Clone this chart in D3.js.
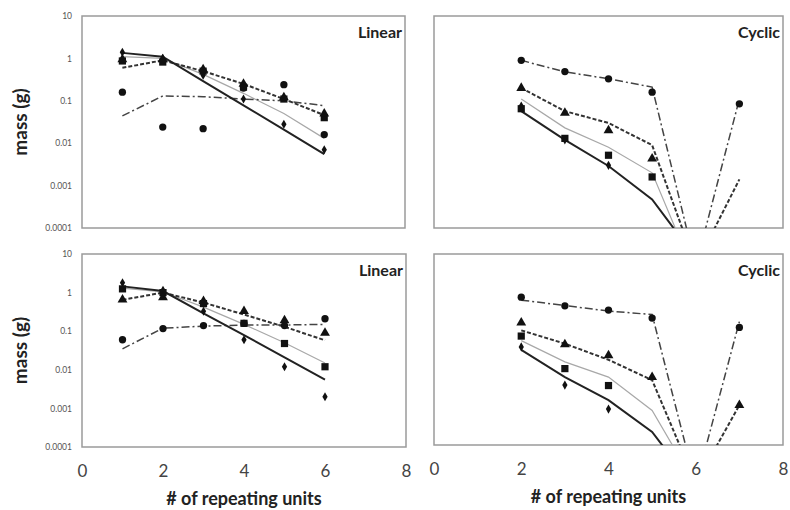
<!DOCTYPE html>
<html>
<head>
<meta charset="utf-8">
<script src="https://cdn.jsdelivr.net/npm/d3@7"></script>
<style>
  body { margin: 0; background: #fff; }
  svg { display: block; font-family: Lato, 'Open Sans', sans-serif; }
</style>
</head>
<body>
<svg id="chart" width="790" height="510"></svg>
<script>
// x values
const xLinear = [1, 2, 3, 4, 5, 6];
const xCyclicPts = [2, 3, 4, 5, 7];
const xCyclicFit = [2, 3, 4, 5, 6, 7];
const yTicks = [10, 1, 0.1, 0.01, 0.001, 0.0001];
const xTicks = [0, 2, 4, 6, 8];

// top, linear
const tlDiamond = [1.4, 1.0, 0.4, 0.11, 0.028, 0.007];
const tlSquare = [0.87, 0.82, 0.5, 0.21, 0.11, 0.04];
const tlTriangle = [0.95, 0.95, 0.55, 0.25, 0.12, 0.05];
const tlCircle = [0.16, 0.024, 0.022, 0.2, 0.24, 0.016];
const tlSolidFit = [1.35, 1.1, 0.29, 0.078, 0.021, 0.0055];
const tlGrayFit = [1.1, 1.0, 0.42, 0.15, 0.05, 0.013];
const tlDashFit = [0.6, 0.9, 0.5, 0.25, 0.11, 0.046];
const tlDashDotFit = [0.044, 0.13, 0.125, 0.11, 0.1, 0.077];

// top, cyclic
const trDiamond = [0.075, 0.012, 0.003, null, null];
const trSquare = [0.065, 0.013, 0.0052, 0.0016, null];
const trTriangle = [0.2, 0.052, 0.02, 0.0043, null];
const trCircle = [0.9, 0.49, 0.33, 0.16, 0.085];
const trSolidFit = [0.057, 0.012, 0.0029, 0.00047, 0.00002, null];
const trGrayFit = [0.11, 0.023, 0.008, 0.002, 0.000007, null];
const trDashFit = [0.2, 0.057, 0.03, 0.009, 0.000013, 0.0014];
const trDashDotFit = [0.9, 0.48, 0.33, 0.21, 0.0000126, 0.11];

// bottom, linear
const blDiamond = [1.8, 1.15, 0.33, 0.06, 0.012, 0.002];
const blSquare = [1.25, 1.0, 0.52, 0.16, 0.048, 0.012];
const blTriangle = [0.66, 0.75, 0.6, 0.33, 0.19, 0.09];
const blCircle = [0.06, 0.117, 0.14, 0.16, 0.14, 0.21];
const blSolidFit = [1.45, 1.1, 0.29, 0.079, 0.021, 0.0056];
const blGrayFit = [1.3, 1.05, 0.42, 0.15, 0.05, 0.015];
const blDashFit = [0.65, 1.0, 0.55, 0.27, 0.13, 0.058];
const blDashDotFit = [0.035, 0.12, 0.135, 0.145, 0.145, 0.15];

// bottom, cyclic
const brDiamond = [0.037, 0.0037, 0.00087, null, null];
const brSquare = [0.071, 0.010, 0.0036, null, null];
const brTriangle = [0.16, 0.043, 0.022, 0.006, 0.0011];
const brCircle = [0.74, 0.44, 0.34, 0.21, 0.12];
const brSolidFit = [0.031, 0.006, 0.0015, 0.00022, 0.000007, null];
const brGrayFit = [0.054, 0.015, 0.006, 0.0008, 0.000009, null];
const brDashFit = [0.1, 0.045, 0.017, 0.005, 0.00001, 0.0011];
const brDashDotFit = [0.62, 0.45, 0.32, 0.26, 0.000009, 0.17];

const lineStyles = {
    solid: { stroke: '#222', width: 2, dash: null },
    gray: { stroke: '#a8a8a8', width: 1.2, dash: null },
    dash: { stroke: '#333', width: 2, dash: '4,2' },
    dashdot: { stroke: '#444', width: 1.5, dash: '8,3,2,3' },
};
const markerTypes = {
    diamond: { type: d3.symbolDiamond, size: 24 },
    square: { type: d3.symbolSquare, size: 52 },
    triangle: { type: d3.symbolTriangle, size: 42 },
    circle: { type: d3.symbolCircle, size: 42 },
};

const panels = [
    {
        id: 'tl', box: [82, 405, 16, 228], title: 'Linear', yLabels: true, xLabels: false,
        xFit: xLinear, xPts: xLinear,
        fits: { solid: tlSolidFit, gray: tlGrayFit, dash: tlDashFit, dashdot: tlDashDotFit },
        pts: { diamond: tlDiamond, square: tlSquare, triangle: tlTriangle, circle: tlCircle },
    },
    {
        id: 'tr', box: [434, 783, 16, 228], title: 'Cyclic', yLabels: false, xLabels: false,
        xFit: xCyclicFit, xPts: xCyclicPts,
        fits: { solid: trSolidFit, gray: trGrayFit, dash: trDashFit, dashdot: trDashDotFit },
        pts: { diamond: trDiamond, square: trSquare, triangle: trTriangle, circle: trCircle },
    },
    {
        id: 'bl', box: [82, 406, 254, 447], title: 'Linear', yLabels: true, xLabels: true,
        xFit: xLinear, xPts: xLinear,
        fits: { solid: blSolidFit, gray: blGrayFit, dash: blDashFit, dashdot: blDashDotFit },
        pts: { diamond: blDiamond, square: blSquare, triangle: blTriangle, circle: blCircle },
    },
    {
        id: 'br', box: [434, 783, 254, 445], title: 'Cyclic', yLabels: false, xLabels: true,
        xFit: xCyclicFit, xPts: xCyclicPts,
        fits: { solid: brSolidFit, gray: brGrayFit, dash: brDashFit, dashdot: brDashDotFit },
        pts: { diamond: brDiamond, square: brSquare, triangle: brTriangle, circle: brCircle },
    },
];

const svg = d3.select('#chart');
const defs = svg.append('defs');

panels.forEach(p => {
    const [x0, x1, y0, y1] = p.box;
    const x = d3.scaleLinear().domain([0, 8]).range([x0, x1]);
    const y = d3.scaleLog().domain([0.0001, 10]).range([y1, y0]);
    const g = svg.append('g');

    defs.append('clipPath')
        .attr('id', 'clip-' + p.id)
        .append('rect')
        .attr('x', x0).attr('y', y0)
        .attr('width', x1 - x0).attr('height', y1 - y0);

    if (p.yLabels) {
        const yAxis = g.append('g')
            .attr('transform', `translate(${x0},0)`)
            .call(d3.axisLeft(y).tickValues(yTicks).tickSize(0).tickPadding(10)
                .tickFormat(d => String(d)));
        yAxis.select('.domain').remove();
        yAxis.selectAll('text')
            .attr('font-size', 8.5).attr('fill', '#555')
            .attr('font-family', 'Lato, sans-serif');

        g.append('text')
            .attr('transform', `translate(27,${(y0 + y1) / 2}) rotate(-90)`)
            .attr('text-anchor', 'middle')
            .attr('font-size', 19).attr('font-weight', 'bold').attr('fill', '#222')
            .text('mass (g)');
    }

    if (p.xLabels) {
        const xAxis = g.append('g')
            .attr('transform', `translate(0,${y1})`)
            .call(d3.axisBottom(x).tickValues(xTicks).tickSize(0).tickPadding(18));
        xAxis.select('.domain').remove();
        xAxis.selectAll('text')
            .attr('font-size', 17).attr('fill', '#444')
            .attr('font-family', 'Lato, sans-serif');

        g.append('text')
            .attr('x', (x0 + x1) / 2).attr('y', y1 + 58)
            .attr('text-anchor', 'middle')
            .attr('font-size', 18).attr('font-weight', 'bold').attr('fill', '#222')
            .text('# of repeating units');
    }

    g.append('rect')
        .attr('x', x0).attr('y', y0)
        .attr('width', x1 - x0).attr('height', y1 - y0)
        .attr('fill', 'none').attr('stroke', '#9a9a9a').attr('stroke-width', 1.5);

    const plot = g.append('g').attr('clip-path', `url(#clip-${p.id})`);

    const line = d3.line()
        .defined(d => d.v != null)
        .x(d => x(d.x))
        .y(d => y(d.v));

    // fitted curves
    ['gray', 'dashdot', 'dash', 'solid'].forEach(key => {
        const st = lineStyles[key];
        const data = p.xFit.map((xv, i) => ({ x: xv, v: p.fits[key][i] }));
        plot.append('path')
            .datum(data)
            .attr('d', line)
            .attr('fill', 'none')
            .attr('stroke', st.stroke)
            .attr('stroke-width', st.width)
            .attr('stroke-dasharray', st.dash);
    });

    // measured points
    Object.keys(markerTypes).forEach(key => {
        const m = markerTypes[key];
        const data = p.xPts
            .map((xv, i) => ({ x: xv, v: p.pts[key][i] }))
            .filter(d => d.v != null);
        plot.selectAll(null)
            .data(data)
            .join('path')
            .attr('transform', d => `translate(${x(d.x)},${y(d.v)})`)
            .attr('d', d3.symbol().type(m.type).size(m.size))
            .attr('fill', '#111');
    });

    g.append('text')
        .attr('x', x1 - 3).attr('y', y0 + 22)
        .attr('text-anchor', 'end')
        .attr('font-size', 16).attr('font-weight', 'bold').attr('fill', '#222')
        .text(p.title);
});
</script>
</body>
</html>
